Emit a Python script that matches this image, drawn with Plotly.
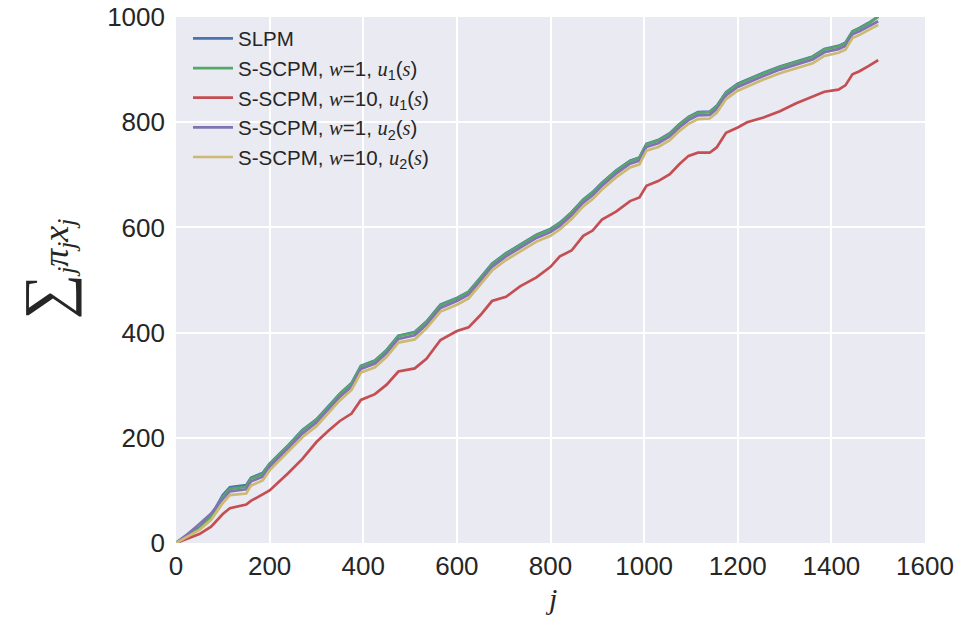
import plotly.graph_objects as go

j = [0, 25, 50, 75, 100, 115, 150, 160, 185, 200, 240, 270, 300, 325, 350, 375, 395,
     425, 450, 475, 510, 535, 565, 600, 625, 650, 675, 705, 735, 770, 800, 820, 845,
     870, 890, 910, 940, 970, 990, 1005, 1030, 1055, 1075, 1095, 1115, 1140, 1155,
     1175, 1200, 1220, 1255, 1290, 1325, 1360, 1385, 1415, 1430, 1445, 1460, 1480, 1500]

slpm = [0, 16, 29, 52, 91, 106, 110, 124, 133, 151, 186, 215, 235, 259, 284, 304, 337,
        347, 367, 394, 401, 421, 453, 466, 478, 504, 531, 551, 567, 586, 597, 609, 629,
        653, 667, 685, 708, 727, 733, 759, 766, 779, 796, 810, 819, 820, 831, 857, 873,
        881, 894, 906, 915, 925, 939, 945, 951, 973, 979, 989, 1001]

scpm_w1_u1 = [0, 15, 27, 50, 88, 103, 107, 122, 131, 150, 185, 214, 234, 258, 283, 303, 336,
              346, 366, 393, 400, 420, 452, 465, 477, 503, 530, 550, 566, 585, 596, 608, 628,
              652, 666, 684, 707, 726, 732, 758, 765, 778, 795, 809, 818, 819, 830, 856, 872,
              880, 893, 905, 914, 924, 938, 944, 950, 972, 978, 988, 1000]

scpm_w10_u1 = [0, 8, 17, 31, 55, 66, 73, 80, 92, 100, 133, 160, 192, 213, 232, 246, 272,
               283, 301, 326, 332, 350, 386, 403, 410, 433, 460, 468, 488, 505, 525, 545, 556,
               584, 594, 615, 630, 650, 657, 679, 688, 701, 720, 736, 742, 742, 752, 780, 790,
               800, 809, 821, 836, 848, 858, 862, 870, 891, 897, 907, 918]

scpm_w1_u2 = [0, 17, 36, 56, 84, 98, 102, 117, 126, 145, 180, 208, 229, 253, 278, 297, 331,
              341, 361, 388, 395, 415, 447, 460, 472, 498, 525, 545, 561, 580, 591, 603, 623,
              647, 661, 679, 702, 721, 727, 753, 760, 773, 790, 804, 813, 814, 825, 851, 867,
              875, 888, 900, 909, 919, 933, 939, 945, 967, 973, 982, 992]

scpm_w10_u2 = [0, 13, 25, 44, 76, 91, 94, 109, 119, 138, 173, 201, 222, 246, 271, 291, 324,
               334, 354, 381, 387, 408, 440, 453, 465, 491, 518, 538, 554, 573, 584, 596, 616,
               640, 654, 672, 695, 714, 720, 746, 753, 766, 783, 797, 806, 807, 818, 844, 860,
               868, 881, 893, 902, 912, 926, 932, 938, 960, 966, 975, 985]

SERIF = "font-family:Liberation Serif;font-style:italic"


def mi(s):
    return f"<span style='{SERIF}'>{s}</span>"


names = ["SLPM",
         f"S-SCPM, {mi('w')}=1, {mi('u')}<sub>1</sub>({mi('s')})",
         f"S-SCPM, {mi('w')}=10, {mi('u')}<sub>1</sub>({mi('s')})",
         f"S-SCPM, {mi('w')}=1, {mi('u')}<sub>2</sub>({mi('s')})",
         f"S-SCPM, {mi('w')}=10, {mi('u')}<sub>2</sub>({mi('s')})"]
series = [slpm, scpm_w1_u1, scpm_w10_u1, scpm_w1_u2, scpm_w10_u2]
colors = ["#4C72B0", "#55A868", "#C44E52", "#8172B2", "#CCB974"]

fig = go.Figure()
for i, (nm, ys, c) in enumerate(zip(names, series, colors)):
    fig.add_trace(go.Scatter(x=j, y=ys, mode="lines", name=nm, legendgroup=f"g{i}",
                             line=dict(color=c, width=2.7)))

W, H = 961, 622
L, R, T, B = 176, 36, 17, 79
PW, PH = W - L - R, H - T - B

tickfont = dict(family="Liberation Sans, Arial, sans-serif", size=26, color="#262626")
fig.update_layout(
    width=W, height=H,
    margin=dict(l=L, r=R, t=T, b=B, autoexpand=False),
    paper_bgcolor="white", plot_bgcolor="#EAEAF2",
    showlegend=True,
    legend=dict(x=0.016, y=0.997, xanchor="left", yanchor="top",
                bgcolor="rgba(0,0,0,0)", tracegroupgap=0,
                font=dict(family="Liberation Sans, Arial, sans-serif", size=20.5, color="#262626"),
                itemwidth=40),
    xaxis=dict(range=[0, 1600], tickvals=[0, 200, 400, 600, 800, 1000, 1200, 1400, 1600],
               showgrid=True, gridcolor="white", gridwidth=1.5, zeroline=False, automargin=False,
               showline=False, ticks="", tickfont=tickfont, ticklabelstandoff=5,
               ticklabeloverflow="allow"),
    yaxis=dict(range=[0, 1000], tickvals=[0, 200, 400, 600, 800, 1000],
               showgrid=True, gridcolor="white", gridwidth=1.5, zeroline=False, automargin=False,
               showline=False, ticks="", tickfont=tickfont, ticklabelstandoff=10,
               ticklabeloverflow="allow"),
)

fig.add_annotation(
    text="<span style='font-size:64px'>∑</span><sub><i>j</i></sub><i>π<sub>j</sub>x<sub>j</sub></i>",
    xref="paper", yref="paper", x=(46 - L) / PW, y=0.52, xanchor="center", yanchor="middle",
    textangle=-90, showarrow=False,
    font=dict(family="Liberation Serif, serif", size=36, color="#262626"))
fig.add_annotation(
    text="<i>j</i>", xref="paper", yref="paper", x=0.5, y=-(598 - 543) / PH,
    xanchor="center", yanchor="middle", showarrow=False,
    font=dict(family="Liberation Serif, serif", size=30, color="#262626"))

fig.write_html("out.html", config={"displayModeBar": False},
               post_script="document.body.style.margin='0';")
